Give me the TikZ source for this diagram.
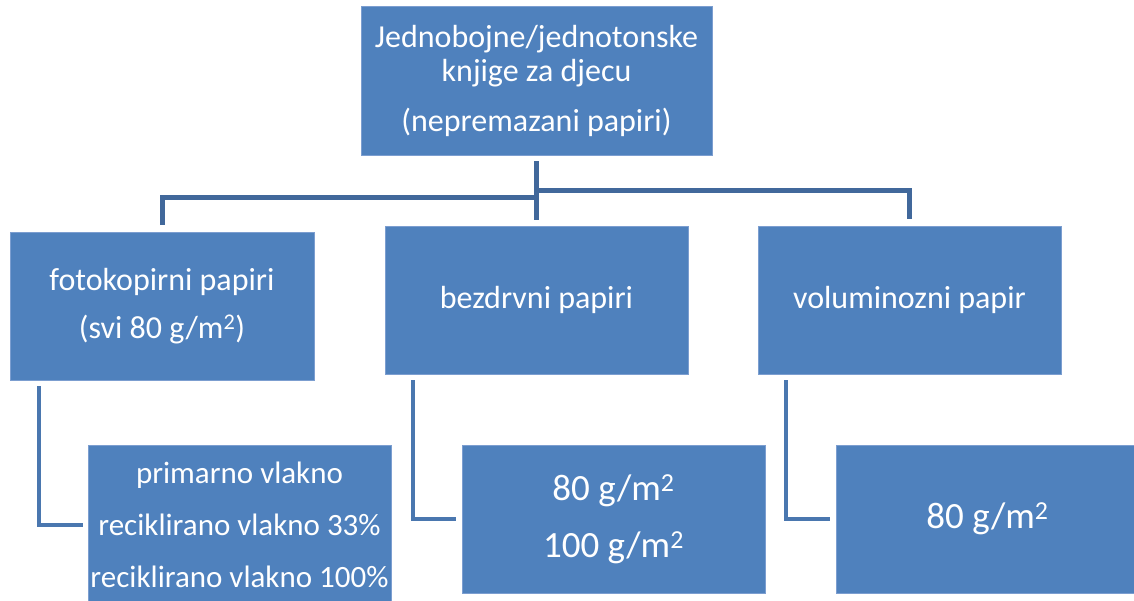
\documentclass[tikz,border=0pt]{standalone}
\usepackage{fontspec}
\setmainfont{Carlito}
\definecolor{Box}{HTML}{4F81BD}
\definecolor{BoxEdge}{HTML}{7C9ED0}
\definecolor{Link}{HTML}{41689B}
\definecolor{SubLink}{HTML}{4A77AF}
\newcommand{\kv}{\textsuperscript{2}}

\begin{document}
\begin{tikzpicture}[
  x=1pt,y=-1pt,
  box/.style={fill=Box,draw=BoxEdge,line width=0.6pt,text=white,align=center,inner sep=1pt,font=\fontsize{32}{34}\selectfont},
  topbox/.style={box,minimum width=351pt,minimum height=149pt},
  kind/.style={box,minimum width=303pt,minimum height=148pt},
  grade/.style={box,minimum width=303pt},
  link/.style={draw=Link,line width=5pt},
  sublink/.style={draw=SubLink,line width=4pt}
]
\useasboundingbox (0,0) rectangle (1134,600);
\node[topbox] (top) at (536.5,80.5) {Jednobojne/jednotonske\\knjige za djecu\\[16pt](nepremazani papiri)};
\node[kind,minimum width=304pt] (foto) at (162,306) {fotokopirni papiri\\[14pt](svi 80 g/m\kv)};
\node[kind] (bezdrv) at (536.5,300) {bezdrvni papiri};
\node[kind] (volum) at (909.5,300) {voluminozni papir};
\node[grade,minimum height=160pt,font=\fontsize{31}{33}\selectfont] (fotog) at (239.5,525) {primarno vlakno\\[19pt]reciklirano vlakno 33\%\\[19pt]reciklirano vlakno 100\%};
\node[grade,minimum height=148pt,font=\fontsize{37}{39}\selectfont] (bezdrvg) at (613.5,519) {80 g/m\kv\\[18pt]100 g/m\kv};
\node[grade,minimum height=148pt,font=\fontsize{37}{39}\selectfont] (volumg) at (987.5,519) {80 g/m\kv};
% glavna grana
\coordinate (hubL) at (536,197);
\coordinate (hubR) at (536,190);
\draw[link] ([yshift=-6pt]top.south) -- ([yshift=6pt]bezdrv.north);
\draw[link] (hubL) -| ([yshift=7pt]foto.north);
\draw[link] (hubR) -| ([yshift=7pt]volum.north);
% podgrane
\draw[sublink] ([xshift=29pt,yshift=-6pt]foto.south west) |- ([xshift=-5pt]fotog.west);
\draw[sublink] ([xshift=28pt,yshift=-6pt]bezdrv.south west) |- ([xshift=-6pt]bezdrvg.west);
\draw[sublink] ([xshift=28pt,yshift=-6pt]volum.south west) |- ([xshift=-6pt]volumg.west);
\end{tikzpicture}
\end{document}
